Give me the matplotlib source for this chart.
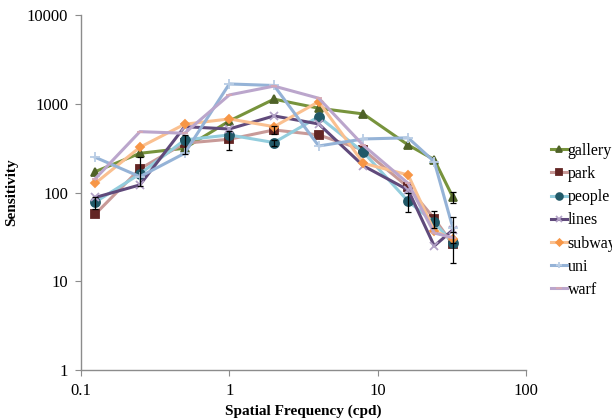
import numpy as np
import matplotlib
matplotlib.use("Agg")
import matplotlib.pyplot as plt

plt.rcParams["font.family"] = ["Liberation Serif", "DejaVu Serif"]

# spatial frequencies (cpd)
freq = [0.125, 0.25, 0.5, 1, 2, 4, 8, 16, 24, 32]

gallery = [172, 277, 316, 641, 1130, 893, 769, 344, 235, 89]
park    = [57, 185, 360, 399, 508, 446, 302, 115, 51, 26]
people  = [78, 162, 392, 446, 366, 717, 285, 80, 46, 27]
lines   = [88, 122, 553, 521, 731, 593, 200, 107, 25, 38]
subway  = [127, 324, 589, 676, 553, 1058, 214, 158, 37, 30]
uni     = [250, 151, 277, 1676, 1610, 335, 402, 414, 223, 40]
warf    = [143, 486, 466, 1260, 1585, 1157, 340, 127, 35, 31]

# error bars (0 = none shown)
gallery_err = [0, 0, 0, 0, 0, 0, 0, 0, 0, 12]
park_err    = [0, 65, 90, 100, 50, 0, 0, 0, 11, 10]
people_err  = [12, 0, 0, 0, 30, 0, 0, 20, 0, 0]
uni_err     = [0, 0, 0, 0, 0, 0, 0, 0, 0, 13]

series = [
    ("gallery", gallery, gallery_err, "#77933C", "#4F6228", "^", 6),
    ("park", park, park_err, "#C89A98", "#632523", "s", 6),
    ("people", people, people_err, "#93CDDD", "#215968", "o", 6.5),
    ("lines", lines, None, "#604A7B", "#B3A2C7", "x", 5.5),
    ("subway", subway, None, "#FAC090", "#F79646", "D", 4.5),
    ("uni", uni, uni_err, "#95B3D7", "#B9CDE5", "+", 6.5),
    ("warf", warf, None, "#BBA6CC", "#D6A8B4", "_", 5),
]

fig = plt.figure(figsize=(6.12, 4.2), dpi=100)
ax = fig.add_axes([0.132, 0.119, 0.728, 0.845])

for name, vals, err, lc, mc, mk, ms in series:
    ax.plot(freq, vals, color=lc, lw=2.2, marker=mk, markersize=ms,
            markerfacecolor=mc, markeredgecolor=mc, markeredgewidth=1.3,
            label=name, zorder=3)
    if err is not None:
        idx = [i for i, e in enumerate(err) if e > 0]
        ax.errorbar([freq[i] for i in idx], [vals[i] for i in idx],
                    yerr=[err[i] for i in idx], fmt="none", ecolor="black",
                    elinewidth=0.9, capsize=2.5, capthick=0.9, zorder=4)

ax.set_xscale("log")
ax.set_yscale("log")
ax.set_xlim(0.1, 100)
ax.set_ylim(1, 10000)
ax.set_xticks([0.1, 1, 10, 100])
ax.set_xticklabels(["0.1", "1", "10", "100"])
ax.set_yticks([1, 10, 100, 1000, 10000])
ax.set_yticklabels(["1", "10", "100", "1000", "10000"])
ax.minorticks_off()

for s in ["top", "right"]:
    ax.spines[s].set_visible(False)
for s in ["left", "bottom"]:
    ax.spines[s].set_color("#8C8C8C")
    ax.spines[s].set_linewidth(1.0)
ax.tick_params(direction="out", length=4, color="#8C8C8C", labelsize=12, pad=5)

ax.set_xlabel("Spatial Frequency (cpd)", fontsize=11, fontweight="bold", labelpad=4)
ax.set_ylabel("Sensitivity", fontsize=11, fontweight="bold", labelpad=6)

fig.legend(loc="upper left", bbox_to_anchor=(0.89, 0.675), frameon=False,
           fontsize=11.5, handlelength=1.0, handletextpad=0.05,
           labelspacing=0.45, borderaxespad=0, markerscale=0.75)

plt.savefig("out.png", dpi=100)
